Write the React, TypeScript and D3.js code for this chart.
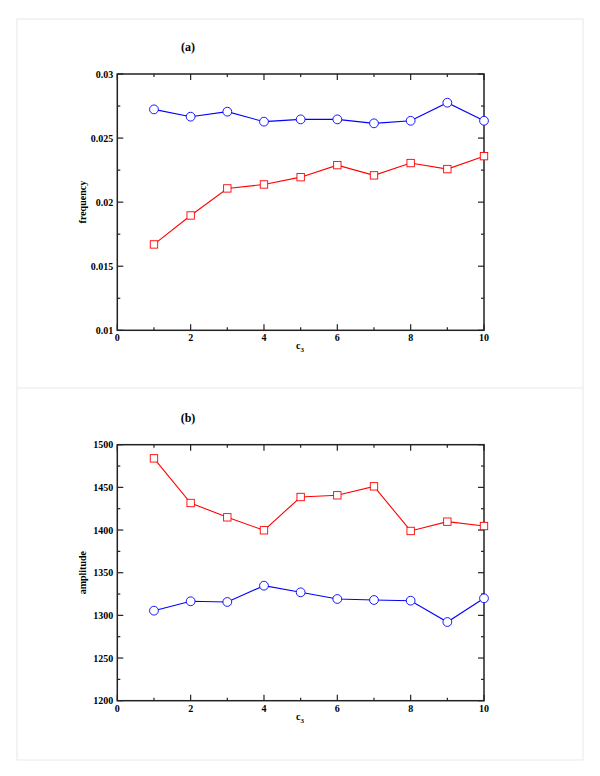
import React from "react";
import * as d3 from "d3";

const xValues = [1, 2, 3, 4, 5, 6, 7, 8, 9, 10];
const freqBlue = [0.02724, 0.02667, 0.02706, 0.02628, 0.02646, 0.02646, 0.02615, 0.02635, 0.02776, 0.02635];
const freqRed = [0.0167, 0.01896, 0.02107, 0.02138, 0.02195, 0.02289, 0.02209, 0.02305, 0.02258, 0.02359];
const ampBlue = [1305.5, 1316.5, 1315.7, 1334.8, 1327, 1319.2, 1318, 1317.2, 1292.2, 1320];
const ampRed = [1484, 1431.7, 1414.9, 1399.7, 1438.7, 1440.7, 1451.2, 1398.9, 1409.8, 1404.7];
const xMajorTicks = [0, 2, 4, 6, 8, 10];
const xMinorTicks = [1, 3, 5, 7, 9];
const freqMajorTicks = [0.01, 0.015, 0.02, 0.025, 0.03];
const freqTickLabels = ["0.01", "0.015", "0.02", "0.025", "0.03"];
const freqMinorTicks = [0.0125, 0.0175, 0.0225, 0.0275];
const ampMajorTicks = [1200, 1250, 1300, 1350, 1400, 1450, 1500];
const ampTickLabels = ["1200", "1250", "1300", "1350", "1400", "1450", "1500"];
const ampMinorTicks = [1225, 1275, 1325, 1375, 1425, 1475];

const FONT = "Liberation Serif";
const AXIS = "#222";
const BLUE = "#0000ff";
const RED = "#ff0000";

type PanelProps = {
  top: number;
  bottom: number;
  title: string;
  yLabel: string;
  yDomain: [number, number];
  yMajor: number[];
  yLabels: string[];
  yMinor: number[];
  blue: number[];
  red: number[];
};

const X0 = 117.3;
const X1 = 484;

function Panel(p: PanelProps) {
  const x = d3.scaleLinear().domain([0, 10]).range([X0, X1]);
  const y = d3.scaleLinear().domain(p.yDomain).range([p.bottom, p.top]);
  const line = d3
    .line<number>()
    .x((_, i) => x(xValues[i]))
    .y((d) => y(d));
  const maj = 6;
  const min = 3;
  return (
    <g>
      <text x={188} y={p.top - 23} fontFamily={FONT} fontWeight="bold" fontSize={12} textAnchor="middle">
        {p.title}
      </text>
      {xMajorTicks.map((t) => (
        <g key={"xm" + t}>
          <line x1={x(t)} x2={x(t)} y1={p.bottom} y2={p.bottom - maj} stroke={AXIS} strokeWidth={1.2} />
          <line x1={x(t)} x2={x(t)} y1={p.top} y2={p.top + maj} stroke={AXIS} strokeWidth={1.2} />
          <text x={x(t)} y={p.bottom + 11} fontFamily={FONT} fontWeight="bold" fontSize={10} textAnchor="middle">
            {t}
          </text>
        </g>
      ))}
      {xMinorTicks.map((t) => (
        <g key={"xn" + t}>
          <line x1={x(t)} x2={x(t)} y1={p.bottom} y2={p.bottom - min} stroke={AXIS} strokeWidth={1.2} />
          <line x1={x(t)} x2={x(t)} y1={p.top} y2={p.top + min} stroke={AXIS} strokeWidth={1.2} />
        </g>
      ))}
      {p.yMajor.map((t, i) => (
        <g key={"ym" + t}>
          <line x1={X0} x2={X0 + maj} y1={y(t)} y2={y(t)} stroke={AXIS} strokeWidth={1.2} />
          <line x1={X1} x2={X1 - maj} y1={y(t)} y2={y(t)} stroke={AXIS} strokeWidth={1.2} />
          <text x={X0 - 4} y={y(t) + 3.5} fontFamily={FONT} fontWeight="bold" fontSize={10} textAnchor="end">
            {p.yLabels[i]}
          </text>
        </g>
      ))}
      {p.yMinor.map((t) => (
        <g key={"yn" + t}>
          <line x1={X0} x2={X0 + min} y1={y(t)} y2={y(t)} stroke={AXIS} strokeWidth={1.2} />
          <line x1={X1} x2={X1 - min} y1={y(t)} y2={y(t)} stroke={AXIS} strokeWidth={1.2} />
        </g>
      ))}
      <rect x={X0} y={p.top} width={X1 - X0} height={p.bottom - p.top} fill="none" stroke={AXIS} strokeWidth={1.5} />
      <text
        transform={`translate(86,${(p.top + p.bottom) / 2}) rotate(-90)`}
        fontFamily={FONT}
        fontWeight="bold"
        fontSize={10}
        textAnchor="middle"
      >
        {p.yLabel}
      </text>
      <text x={300} y={p.bottom + 19} fontFamily={FONT} fontWeight="bold" fontSize={10} textAnchor="middle">
        c<tspan fontSize={7} dy={3}>3</tspan>
      </text>
      <path d={line(p.blue) || ""} fill="none" stroke={BLUE} strokeWidth={1.1} />
      <path d={line(p.red) || ""} fill="none" stroke={RED} strokeWidth={1.1} />
      {p.blue.map((v, i) => (
        <circle key={"c" + i} cx={x(xValues[i])} cy={y(v)} r={4.4} fill="white" stroke={BLUE} strokeWidth={0.9} />
      ))}
      {p.red.map((v, i) => (
        <rect
          key={"s" + i}
          x={x(xValues[i]) - 3.7}
          y={y(v) - 3.7}
          width={7.4}
          height={7.4}
          fill="white"
          stroke={RED}
          strokeWidth={0.9}
        />
      ))}
    </g>
  );
}

export default function App() {
  return (
    <svg
      width={600}
      height={776}
      style={{ position: "absolute", left: 0, top: 0, background: "white" }}
    >
      <rect x={0} y={0} width={600} height={776} fill="white" />
      <rect x={17} y={19} width={566} height={741} fill="none" stroke="#e8e8e8" strokeWidth={1} />
      <line x1={17} x2={583} y1={388} y2={388} stroke="#e8e8e8" strokeWidth={1} />
      <Panel
        top={74}
        bottom={330.3}
        title="(a)"
        yLabel="frequency"
        yDomain={[0.01, 0.03]}
        yMajor={freqMajorTicks}
        yLabels={freqTickLabels}
        yMinor={freqMinorTicks}
        blue={freqBlue}
        red={freqRed}
      />
      <Panel
        top={444.7}
        bottom={700.7}
        title="(b)"
        yLabel="amplitude"
        yDomain={[1200, 1500]}
        yMajor={ampMajorTicks}
        yLabels={ampTickLabels}
        yMinor={ampMinorTicks}
        blue={ampBlue}
        red={ampRed}
      />
    </svg>
  );
}
